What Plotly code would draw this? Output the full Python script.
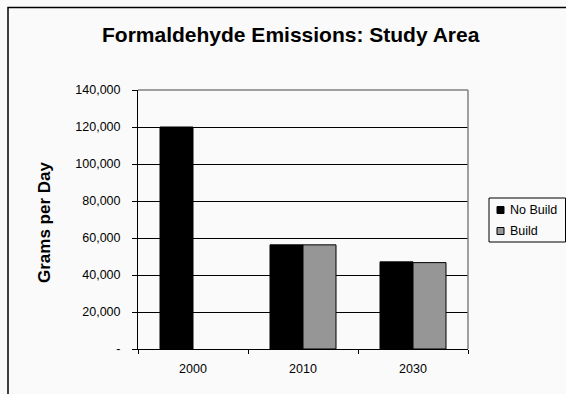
import plotly.graph_objects as go

# Emission values (grams per day) by analysis year
years = ["2000", "2010", "2030"]
no_build = [120000, 56300, 47100]
build = [None, 56300, 46700]
series_names = ["No Build", "Build"]
series_colors = ["#000000", "#969696"]

y_tick_vals = [0, 20000, 40000, 60000, 80000, 100000, 120000, 140000]
y_tick_text = ["-", "20,000", "40,000", "60,000", "80,000", "100,000", "120,000", "140,000"]

W, H = 566, 394
L, R, T, B = 138, 98, 90, 45
pw, ph = W - L - R, H - T - B


def px_x(x):
    return (x - L) / pw


def px_y(y):
    return (H - B - y) / ph


FONT = "Liberation Sans, Arial, sans-serif"
BG = "#fafafa"

fig = go.Figure()
for name, vals, col in zip(series_names, [no_build, build], series_colors):
    fig.add_trace(go.Bar(
        x=years, y=vals, name=name,
        marker=dict(color=col, line=dict(color="#000000", width=1)),
        showlegend=False,
    ))

shapes = [
    # outer chart frame
    dict(type="rect", xref="paper", yref="paper",
         x0=px_x(8), x1=px_x(620), y0=px_y(440), y1=px_y(7.5),
         line=dict(color="#000000", width=1.5), layer="below"),
    # plot area border (top and right)
    dict(type="line", xref="paper", yref="paper", x0=0, x1=1, y0=1, y1=1,
         line=dict(color="#808080", width=1.5)),
    dict(type="line", xref="paper", yref="paper", x0=1, x1=1, y0=0, y1=1,
         line=dict(color="#808080", width=1.5)),
    # legend box
    dict(type="rect", xref="paper", yref="paper",
         x0=px_x(489), x1=px_x(565.5), y0=px_y(242), y1=px_y(198),
         line=dict(color="#000000", width=1), fillcolor=BG),
]

annotations = [
    dict(text="<b>Formaldehyde Emissions: Study Area</b>", xref="paper", yref="paper",
         x=px_x(291), y=px_y(35), xanchor="center", yanchor="middle", showarrow=False,
         font=dict(family=FONT, size=21, color="#000000")),
    dict(text="<b>Grams per Day</b>", xref="paper", yref="paper",
         x=px_x(44), y=px_y(223), xanchor="center", yanchor="middle", showarrow=False,
         textangle=-90, font=dict(family=FONT, size=17, color="#000000")),
]

# legend entries
for i, (name, col) in enumerate(zip(series_names, series_colors)):
    cy = 210 + i * 21
    shapes.append(dict(type="rect", xref="paper", yref="paper",
                       x0=px_x(497), x1=px_x(504), y0=px_y(cy + 3.5), y1=px_y(cy - 3.5),
                       fillcolor=col, line=dict(color="#000000", width=1)))
    annotations.append(dict(text=name, xref="paper", yref="paper",
                            x=px_x(508), y=px_y(cy), xanchor="left", yanchor="middle",
                            showarrow=False, font=dict(family=FONT, size=12.5, color="#000000")))

fig.update_layout(
    width=W, height=H,
    margin=dict(l=L, r=R, t=T, b=B),
    paper_bgcolor=BG, plot_bgcolor=BG,
    barmode="group", bargap=0.4, bargroupgap=0,
    font=dict(family=FONT, size=12, color="#000000"),
    shapes=shapes, annotations=annotations,
    xaxis=dict(
        type="category", showline=True, linecolor="#000000", linewidth=1,
        ticks="outside", tickson="boundaries", ticklen=4, tickcolor="#000000",
        showgrid=False, tickfont=dict(family=FONT, size=12.5), ticklabelstandoff=8,
    ),
    yaxis=dict(
        range=[0, 140000], tickvals=y_tick_vals, ticktext=y_tick_text,
        showline=True, linecolor="#000000", linewidth=1,
        ticks="outside", ticklen=5, tickcolor="#000000",
        showgrid=True, gridcolor="#000000", gridwidth=1, zeroline=False,
        tickfont=dict(family=FONT, size=12.5), ticklabelstandoff=9,
    ),
)

fig.write_html("out.html")
